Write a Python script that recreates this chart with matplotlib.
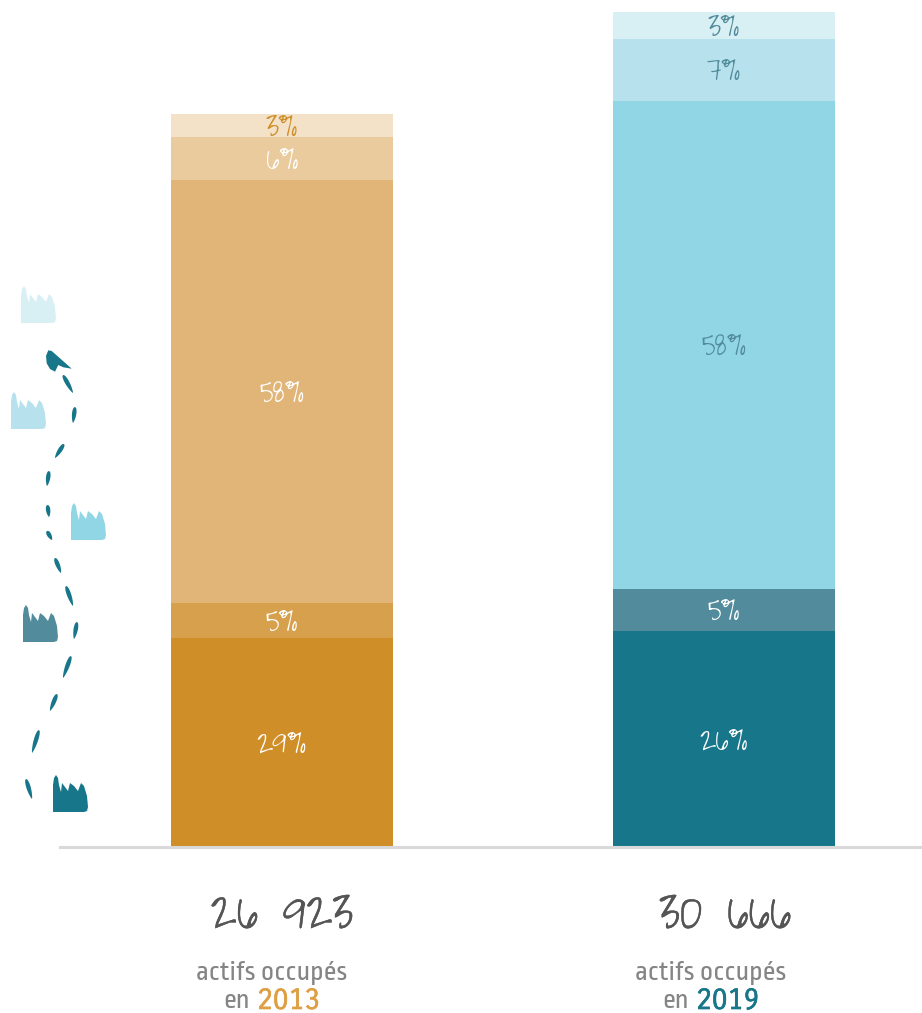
#!/usr/bin/env python
# - Python Dependencies
import numpy as np
import matplotlib
matplotlib.use('Agg')
import matplotlib.pyplot as plt
import matplotlib.patheffects as pe
from matplotlib.patches import Polygon

# - Chart data
years = ['2013', '2019']
totals = [26923, 30666]
totals_labels = ['26 923', '30 666']
segment_2013 = [7677, 1286, 15537, 1579, 844]
segment_2019 = [7933, 1543, 17924, 2277, 989]
labels_2013 = ['29%', '5%', '58%', '6%', '3%']
labels_2019 = ['26%', '5%', '58%', '7%', '3%']

# - Colors
colors_2013 = ['#cf8e27', '#d6a04d', '#e1b577', '#e9cb9d', '#f3e2c8']
colors_2019 = ['#177689', '#528b9b', '#90d6e4', '#b6e1ed', '#d8f0f4']
text_2013 = ['white', 'white', 'white', 'white', '#cf8e27']
text_2019 = ['white', 'white', '#528b9b', '#528b9b', '#528b9b']
year_colors = ['#de9f45', '#177689']
factory_colors = ['#177689', '#528b9b', '#90d6e4', '#b6e1ed', '#d8f0f4']
dash_color = '#177689'
hand_font = ['Waiting for the Sunrise', 'Liberation Sans']
sub_font = ['Ropa Sans', 'Liberation Sans']
year_font = ['Carrois Gothic', 'Liberation Sans']

W, H = 922, 1013
fig = plt.figure(figsize=(W / 100, H / 100), dpi=100)
fig.patch.set_facecolor('white')

# - Bars
ax = fig.add_axes([60 / W, (H - 847) / H, 862 / W, 847 / H])
ax.set_xlim(-222 / 442, 640 / 442)
ax.set_ylim(0, 847 * 26923 / 733)
ax.patch.set_alpha(0)
for s in ['top', 'left', 'right']:
    ax.spines[s].set_visible(False)
ax.spines['bottom'].set_color('#d9d9d9')
ax.spines['bottom'].set_linewidth(2.2)
ax.set_xticks([])
ax.set_yticks([])

series = [(segment_2013, colors_2013, labels_2013, text_2013),
          (segment_2019, colors_2019, labels_2019, text_2019)]
for i, (vals, cols, labs, tcols) in enumerate(series):
    bottom = 0
    for v, c, lab, tc in zip(vals, cols, labs, tcols):
        ax.bar(i, v, width=222 / 442, bottom=bottom, color=c, linewidth=0)
        ax.text(i, bottom + v / 2, lab, color=tc, ha='center', va='center',
                family=hand_font, fontsize=25)
        bottom += v

# - Text under the bars
offsets = [(0, -10, -32, -25), (1, -13, -35, -28)]
for i, (num_x, off, en_x, yr_x) in enumerate(offsets):
    ax.annotate(totals_labels[i], (i, 0), xytext=(num_x, -65),
                textcoords='offset pixels', ha='center', va='center',
                family=hand_font, fontsize=40, color='#555555',
                annotation_clip=False,
                path_effects=[pe.withStroke(linewidth=0.3, foreground='#555555')])
    ax.annotate('actifs occupés', (i, 0), xytext=(off, -126),
                textcoords='offset pixels', ha='center', va='center',
                family=sub_font, fontsize=20.5, color='#858585',
                annotation_clip=False)
    ax.annotate('en', (i, 0), xytext=(en_x, -154),
                textcoords='offset pixels', ha='right', va='center',
                family=sub_font, fontsize=20.5, color='#858585',
                annotation_clip=False)
    ax.annotate(years[i], (i, 0), xytext=(yr_x, -154),
                textcoords='offset pixels', ha='left', va='center',
                family=year_font, fontsize=21, color=year_colors[i],
                annotation_clip=False,
                path_effects=[pe.withStroke(linewidth=0.5, foreground=year_colors[i])])

# - Decorative pictograms, in pixel coordinates
deco = fig.add_axes([0, 0, 1, 1])
deco.set_xlim(0, W)
deco.set_ylim(H, 0)
deco.axis('off')
deco.patch.set_alpha(0)

factory_shape = [(0, 37), (0, 10), (1, 3), (3, 0), (5, 3), (6, 10), (8, 17),
                 (9, 8), (12, 12), (15, 16), (17, 8), (21, 11), (25, 16),
                 (28, 8), (31, 11), (34, 21), (35, 32), (34, 36), (31, 37)]
factory_pos = [(53, 775), (23, 605), (71, 503), (11, 392), (21, 286)]
for (x0, y0), c in zip(factory_pos, factory_colors):
    deco.add_patch(Polygon([(x0 + x, y0 + y) for x, y in factory_shape],
                           closed=True, color=c, linewidth=0))

dashes = [((26, 779), (32, 799)), ((39, 730), (32, 753)), ((57, 694), (50, 711)),
          ((71, 656), (63, 678)), ((77, 622), (74, 639)), ((66, 586), (73, 606)),
          ((55, 558), (61, 573)), ((47, 531), (52, 540)), ((47.5, 505), (49, 517)),
          ((49, 471), (47, 486)), ((64, 444), (55, 458)), ((75, 407), (73, 423)),
          ((63, 375), (73, 393))]
t = np.linspace(0, 1, 30)
for p0, p1 in dashes:
    p0, p1 = np.array(p0, float), np.array(p1, float)
    d = p1 - p0
    n = np.array([-d[1], d[0]]) / np.hypot(*d)
    # - teardrop: widest near the start, tapering to the end
    half = 5.2 * np.sqrt(t) * (1 - t) ** 0.8
    mid = p0 + np.outer(t, d)
    outline = np.vstack([mid + np.outer(half, n), (mid - np.outer(half, n))[::-1]])
    deco.add_patch(Polygon(outline, closed=True, color=dash_color, linewidth=0))

arrow_head = [(46, 356), (48.3, 350.3), (51.7, 351), (60, 358.3), (71.7, 368.7),
              (63.3, 367.3), (58.3, 365), (55, 371.7), (50, 369), (46.7, 363.3)]
deco.add_patch(Polygon(arrow_head, closed=True, color=dash_color, linewidth=0))

fig.savefig('out.png', dpi=100)
plt.close()
